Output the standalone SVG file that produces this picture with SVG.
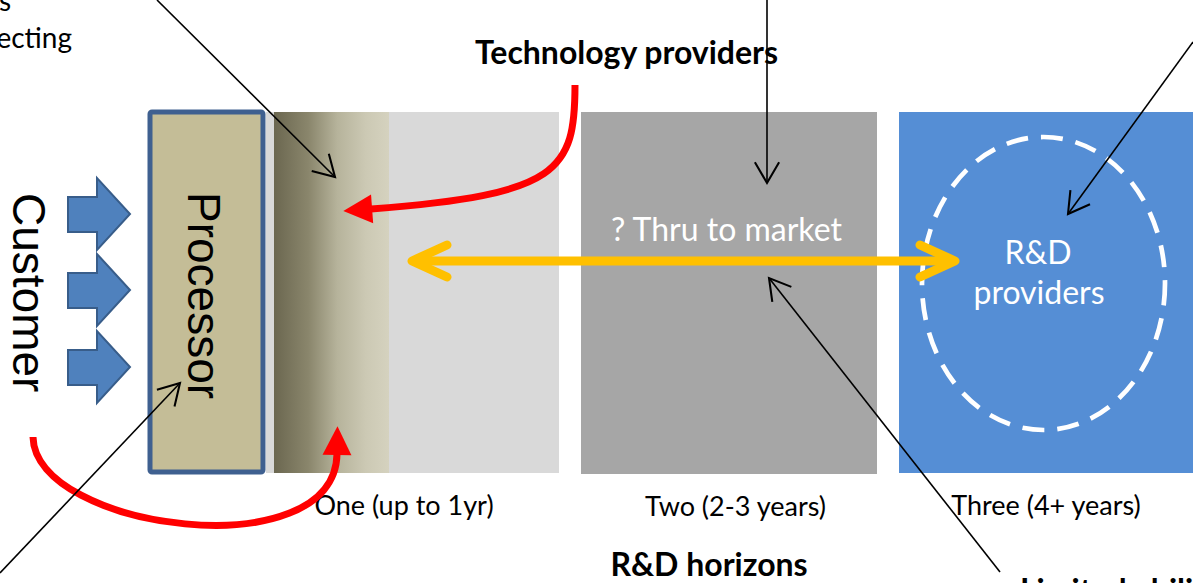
<svg xmlns="http://www.w3.org/2000/svg" width="1193" height="583" viewBox="0 0 1193 583">
<style>
.lbl{font-family:Lato,"Open Sans","Liberation Sans",sans-serif;font-size:27px;fill:#000}
.big{font-size:32px}
.b{font-weight:bold}
.w{fill:#fff}
.vert{font-family:"Liberation Sans",Arial,sans-serif;font-size:46px;fill:#000}
.thin{fill:none;stroke:#000;stroke-width:1.6}
.red{fill:none;stroke:#FF0000;stroke-width:7}
.blk{fill:#4F81BD;stroke:#385D8A;stroke-width:2}
</style>
<defs>
<linearGradient id="g1" x1="0" y1="0" x2="1" y2="0">
<stop offset="0" stop-color="#6B6750"/>
<stop offset="0.3" stop-color="#8A866C"/>
<stop offset="0.55" stop-color="#B6B39B"/>
<stop offset="0.8" stop-color="#CCC9B4"/>
<stop offset="1" stop-color="#D5D2BF"/>
</linearGradient>
<marker id="open" markerUnits="userSpaceOnUse" markerWidth="30" markerHeight="30" refX="0" refY="0" viewBox="-22 -13 26 26" orient="auto" overflow="visible">
<path d="M -18 -10.5 L 0 0 L -18 10.5" fill="none" stroke="#000" stroke-width="1.8"/>
</marker>
<marker id="redhead" markerUnits="userSpaceOnUse" markerWidth="30" markerHeight="30" refX="1" refY="13" viewBox="0 0 27 26" orient="auto" overflow="visible">
<path d="M 0 0 L 26 13 L 0 26 Z" fill="#FF0000"/>
</marker>
<marker id="chev" markerUnits="userSpaceOnUse" markerWidth="50" markerHeight="50" refX="0" refY="0" viewBox="-45 -25 50 50" orient="auto-start-reverse" overflow="visible">
<path d="M -35 -16 L 0 0 L -35 16" fill="none" stroke="#FFC000" stroke-width="9" stroke-linecap="round" stroke-linejoin="round"/>
</marker>
</defs>

<g id="horizon-one">
<rect x="266" y="112" width="293" height="361" fill="#D9D9D9"/>
<rect x="274" y="112" width="115" height="361" fill="url(#g1)"/>
<text class="lbl" x="404" y="515" text-anchor="middle">One (up to 1yr)</text>
</g>

<g id="horizon-two">
<rect x="581" y="112" width="296" height="362" fill="#A6A6A6"/>
<text class="lbl big w" x="726.5" y="241" text-anchor="middle">? Thru to market</text>
<text class="lbl" x="735.5" y="516" text-anchor="middle">Two (2-3 years)</text>
</g>

<g id="horizon-three">
<rect x="899" y="112" width="294" height="361" fill="#558ED5"/>
<ellipse cx="1043.5" cy="283.5" rx="121.5" ry="146.5" fill="none" stroke="#fff" stroke-width="4.7" stroke-dasharray="22 13"/>
<text class="lbl big w" x="1038" y="264" text-anchor="middle">R&amp;D</text>
<text class="lbl big w" x="1039" y="304" text-anchor="middle">providers</text>
<text class="lbl" x="1046" y="515" text-anchor="middle">Three (4+ years)</text>
</g>

<g id="processor">
<rect x="150" y="112" width="113" height="360" rx="2" fill="#C4BD97" stroke="#3F6090" stroke-width="5"/>
<text class="vert" transform="translate(188,192) rotate(90)">Processor</text>
</g>

<g id="customer">
<text class="vert" transform="translate(13,193) rotate(90)">Customer</text>
<path class="blk" d="M68 197 H97 V178 L130 214 L97 250 V232 H68 Z"/>
<path class="blk" d="M68 273 H97 V254 L130 290 L97 326 V308 H68 Z"/>
<path class="blk" d="M68 350 H97 V331 L130 367 L97 403 V385 H68 Z"/>
</g>

<g id="titles">
<text class="lbl big b" x="626.5" y="64" text-anchor="middle">Technology providers</text>
<text class="lbl big b" x="709" y="576" text-anchor="middle">R&amp;D horizons</text>
<text class="lbl big b" x="1020" y="602">Limited ability</text>
<text class="lbl" x="11" y="11" text-anchor="end" style="font-size:28px">s</text>
<text class="lbl" x="72" y="48" text-anchor="end" style="font-size:28px">ecting</text>
</g>

<g id="connectors">
<path class="red" d="M 575 85 C 575 170, 560 195, 371 209" marker-end="url(#redhead)"/>
<path class="red" d="M 33 437 C 35 530, 335 570, 337 454" marker-end="url(#redhead)"/>
<path d="M 412 261 L 955 261" fill="none" stroke="#FFC000" stroke-width="9" marker-start="url(#chev)" marker-end="url(#chev)"/>
<path class="thin" d="M 157 0 L 335 177" marker-end="url(#open)"/>
<path class="thin" d="M 767 0 L 767 183" marker-end="url(#open)"/>
<path class="thin" d="M 1193 42 L 1068 214" marker-end="url(#open)"/>
<path class="thin" d="M 0 573 L 180 383" marker-end="url(#open)"/>
<path class="thin" d="M 1000 572 L 769 278" marker-end="url(#open)"/>
</g>
</svg>
